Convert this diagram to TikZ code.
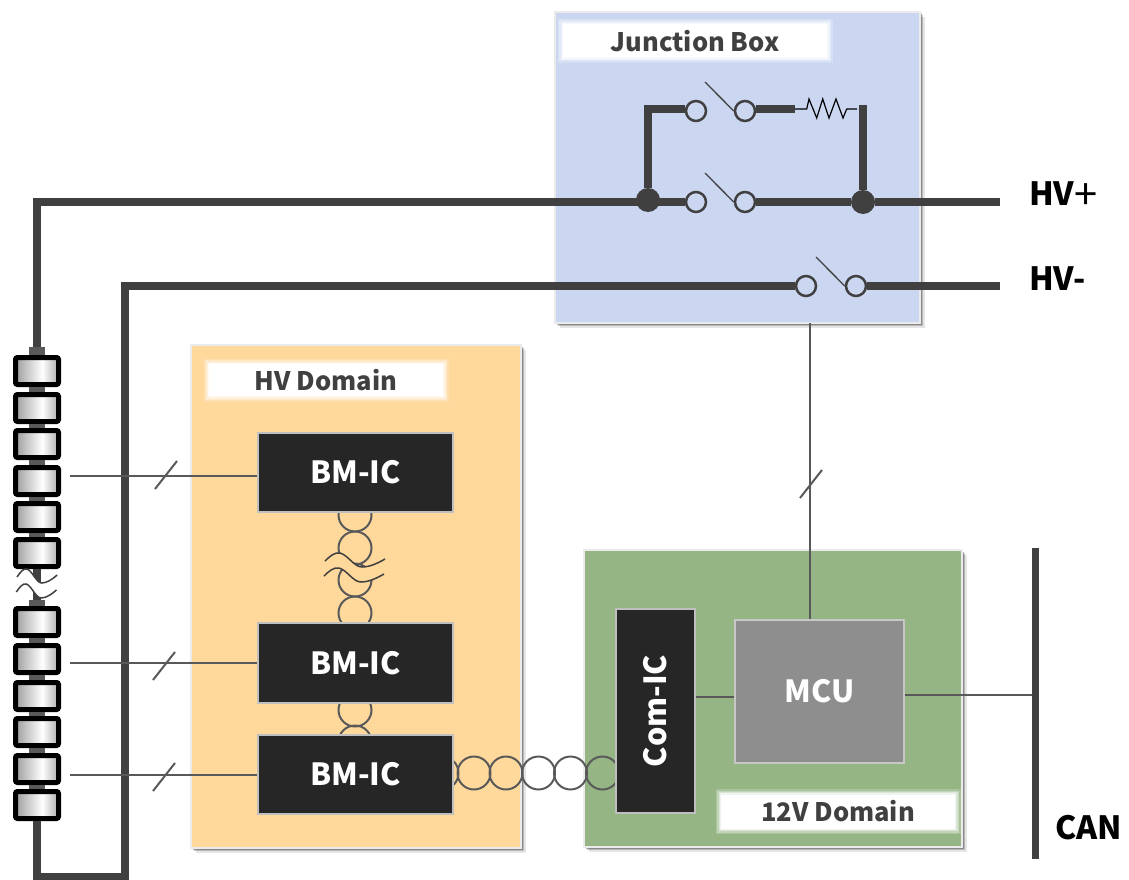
\documentclass[tikz,border=0pt]{standalone}
\usepackage{fontspec}
\setmainfont{Noto Sans CJK JP}
\usetikzlibrary{shadows}
\definecolor{wirecol}{HTML}{404040}
\definecolor{sigcol}{HTML}{595959}
\definecolor{jboxcol}{HTML}{CBD7F0}
\definecolor{hvcol}{HTML}{FFD89B}
\definecolor{lvcol}{HTML}{95B584}
\definecolor{chipcol}{HTML}{262626}
\definecolor{mcucol}{HTML}{8E8E8E}
\pgfdeclarehorizontalshading{cellshade}{100bp}{color(0bp)=(black!38); color(25bp)=(black!38); color(56bp)=(white); color(75bp)=(black!32); color(100bp)=(black!32)}
\newcommand{\breakmark}[4]{
	\begin{scope}[shift={(#1,#2)},xscale=#3]
		\fill[#4] (0,0) .. controls (5,-5) and (10,-9) .. (15,-8) .. controls (23,-6) and (29,6) .. (37,6) .. controls (45,6) and (53,2) .. (60,-2) -- ++(-1,15) .. controls (52,17) and (44,21) .. (36,21) .. controls (28,21) and (22,9) .. (14,7) .. controls (9,6) and (4,10) .. (-1,15) -- cycle;
		\draw[breakline] (0,0) .. controls (5,-5) and (10,-9) .. (15,-8) .. controls (23,-6) and (29,6) .. (37,6) .. controls (45,6) and (53,2) .. (60,-2);
		\draw[breakline] (-1,15) .. controls (4,10) and (9,6) .. (14,7) .. controls (22,9) and (28,21) .. (36,21) .. controls (44,21) and (52,17) .. (59,13);
	\end{scope}
}
\tikzset{
	domainbox/.style={draw=black!8,line width=1.5pt,inner sep=0pt,drop shadow={shadow xshift=5pt,shadow yshift=-5pt,fill=black,opacity=.1},drop shadow={shadow xshift=3pt,shadow yshift=-3pt,fill=black,opacity=.2},drop shadow={shadow xshift=1.5pt,shadow yshift=-1.5pt,fill=black,opacity=.25}},
	chip/.style={draw=black!25,line width=1.5pt,fill=chipcol,text=white,font=\bfseries\fontsize{30.5}{30.5}\selectfont,inner sep=0pt},
	domaintag/.style={fill=white,text=wirecol,font=\bfseries\fontsize{25.5}{25.5}\selectfont,inner sep=0pt,
		preaction={draw=white,line width=11pt,opacity=.2},preaction={draw=white,line width=8pt,opacity=.3},preaction={draw=white,line width=5pt,opacity=.4},preaction={draw=white,line width=2.5pt,opacity=.6}},
	cell/.style={draw=black,line width=5pt,rounded corners=2pt,shading=cellshade,minimum width=43pt,minimum height=27pt,inner sep=0pt,outer sep=2.5pt},
	celllink/.style={draw=sigcol,line width=16pt},
	wire/.style={draw=wirecol,line width=8pt},
	sig/.style={draw=sigcol,line width=2pt},
	blade/.style={draw=wirecol,line width=1.3pt},
	contact/.style={circle,draw=wirecol,line width=2.5pt,fill=jboxcol,minimum size=20pt,inner sep=0pt},
	junction/.style={circle,fill=wirecol,minimum size=24pt,inner sep=0pt},
	twist/.style={circle,draw=sigcol,line width=2pt,minimum size=33pt,inner sep=0pt},
	breakline/.style={draw=wirecol,line width=1.5pt},
	termlabel/.style={anchor=west,font=\bfseries\fontsize{32}{32}\selectfont,inner sep=0pt},
}
\begin{document}
\begin{tikzpicture}[x=1pt,y=-1pt]
	\useasboundingbox (0,0) rectangle (1129,880);
	\node[domainbox,fill=jboxcol,minimum width=365pt,minimum height=311pt] (jbox) at (737.5,167.5) {};
	\node[domainbox,fill=hvcol,minimum width=330pt,minimum height=503pt] (hvdom) at (356,596.5) {};
	\node[domainbox,fill=lvcol,minimum width=378pt,minimum height=297pt] (lvdom) at (773,698.5) {};
	\node[domaintag,minimum width=264pt,minimum height=33pt] (jboxtag) at (695,41) {Junction Box};
	\node[domaintag,minimum width=234pt,minimum height=32pt] (hvtag) at (326,380) {HV Domain};
	\node[domaintag,minimum width=234pt,minimum height=34pt] (lvtag) at (838,811.5) {12V Domain};
	\foreach \i/\y in {1/371,2/408,3/444,4/481,5/517,6/553,7/622,8/659,9/696,10/732,11/769,12/805}
		\node[cell] (cell\i) at (37,\y) {};
	\foreach \i/\j in {1/2,2/3,3/4,4/5,5/6,7/8,8/9,9/10,10/11,11/12}
		\draw[celllink] (cell\i) -- (cell\j);
	\coordinate (celltop) at (37,347);
	\coordinate (cellmid) at (37,600);
	\draw[celllink] (celltop) -- (cell1);
	\draw[celllink] (cellmid) -- (cell7);
	\draw[wire] (cell6) -- (cellmid);
	\breakmark{17}{577}{.67}{white}
	\node[contact] (sw1a) at (696,111) {};
	\node[contact] (sw1b) at (745,111) {};
	\node[contact] (sw2a) at (696,202) {};
	\node[contact] (sw2b) at (745,202) {};
	\node[contact] (sw3a) at (806,286) {};
	\node[contact] (sw3b) at (856,286) {};
	\node[junction] (jleft) at (648,200) {};
	\node[junction] (jright) at (863,202) {};
	\coordinate (hvpend) at (1000,202);
	\coordinate (hvmend) at (1000,286);
	\coordinate (rleft) at (795,109);
	\coordinate (rright) at (857,109);
	\draw[wire] (celltop) -- (37,202) -- (jleft |- sw2a) -- (sw2a);
	\draw[wire] (sw2b) -- (jright) -- (hvpend);
	\draw[wire] (jleft) -- (648,109) -- (sw1a.west |- rleft);
	\draw[wire] (sw1b.east |- rleft) -- (rleft);
	\draw[wire] (jright) -- (863,105);
	\draw[wire] (cell12) -- (37,876.5) -- (125,876.5) -- (125,286) -- (sw3a);
	\draw[wire] (sw3b) -- (hvmend);
	\draw[black,line width=1.2pt] (rleft) -- (806.7,109) -- (809,99) -- (816.7,118) -- (822.7,99) -- (829,118) -- (836,99) -- (843,118) -- (846.7,109) -- (rright);
	\draw[blade] (705,82) -- (sw1b.west);
	\draw[blade] (705,173) -- (sw2b.west);
	\draw[blade] (816,257) -- (sw3b.west);
	\foreach \n/\x/\y in {a/355/515,b/355/548,c/355/580,d/355/613,e/355/710,f/355/742,g/442/773,h/474/773,i/506/773,j/538.5/773,k/570.5/773,l/602.5/773}
		\node[twist] (tw\n) at (\x,\y) {};
	\breakmark{325}{561}{1}{hvcol}
	\node[chip,minimum width=195pt,minimum height=79pt] (bm1) at (355.5,472.5) {BM-IC};
	\node[chip,minimum width=195pt,minimum height=80pt] (bm2) at (355.5,663) {BM-IC};
	\node[chip,minimum width=195pt,minimum height=79pt] (bm3) at (355.5,774.5) {BM-IC};
	\node[chip,minimum width=79pt,minimum height=204pt] (comic) at (655.5,711) {\rotatebox{90}{Com-IC}};
	\node[chip,draw=black!22,fill=mcucol,minimum width=169pt,minimum height=143pt] (mcu) at (819.5,691.5) {MCU};
	\coordinate (senseA) at (70,476);
	\coordinate (senseB) at (70,663);
	\coordinate (senseC) at (70,775);
	\coordinate (ctrl) at (810,323);
	\coordinate (cantop) at (1035,548);
	\coordinate (canbot) at (1035,859);
	\draw[sig] (senseA) -- (bm1.west |- senseA);
	\draw[sig] (senseB) -- (bm2.west |- senseB);
	\draw[sig] (senseC) -- (bm3.west |- senseC);
	\draw[sig] (155,489) -- (177,461);
	\draw[sig] (153,680) -- (175,652);
	\draw[sig] (153,791) -- (175,763);
	\draw[sig] (ctrl) -- (ctrl |- mcu.north);
	\draw[sig] (800,498) -- (822,470);
	\draw[sig] ([yshift=14pt]comic.east) -- (mcu.west |- 0,697);
	\draw[sig] ([yshift=-3.5pt]mcu.east) -- (cantop |- 0,695);
	\draw[wirecol,line width=7pt] (cantop) -- (canbot);
	\node[termlabel] (hvplus) at (1029,196) {HV{\mdseries\raisebox{-4pt}{\scalebox{1.3}{+}}}};
	\node[termlabel] (hvminus) at (1029,279) {HV-};
	\node[termlabel] (can) at (1055,828) {CAN};
\end{tikzpicture}
\end{document}
